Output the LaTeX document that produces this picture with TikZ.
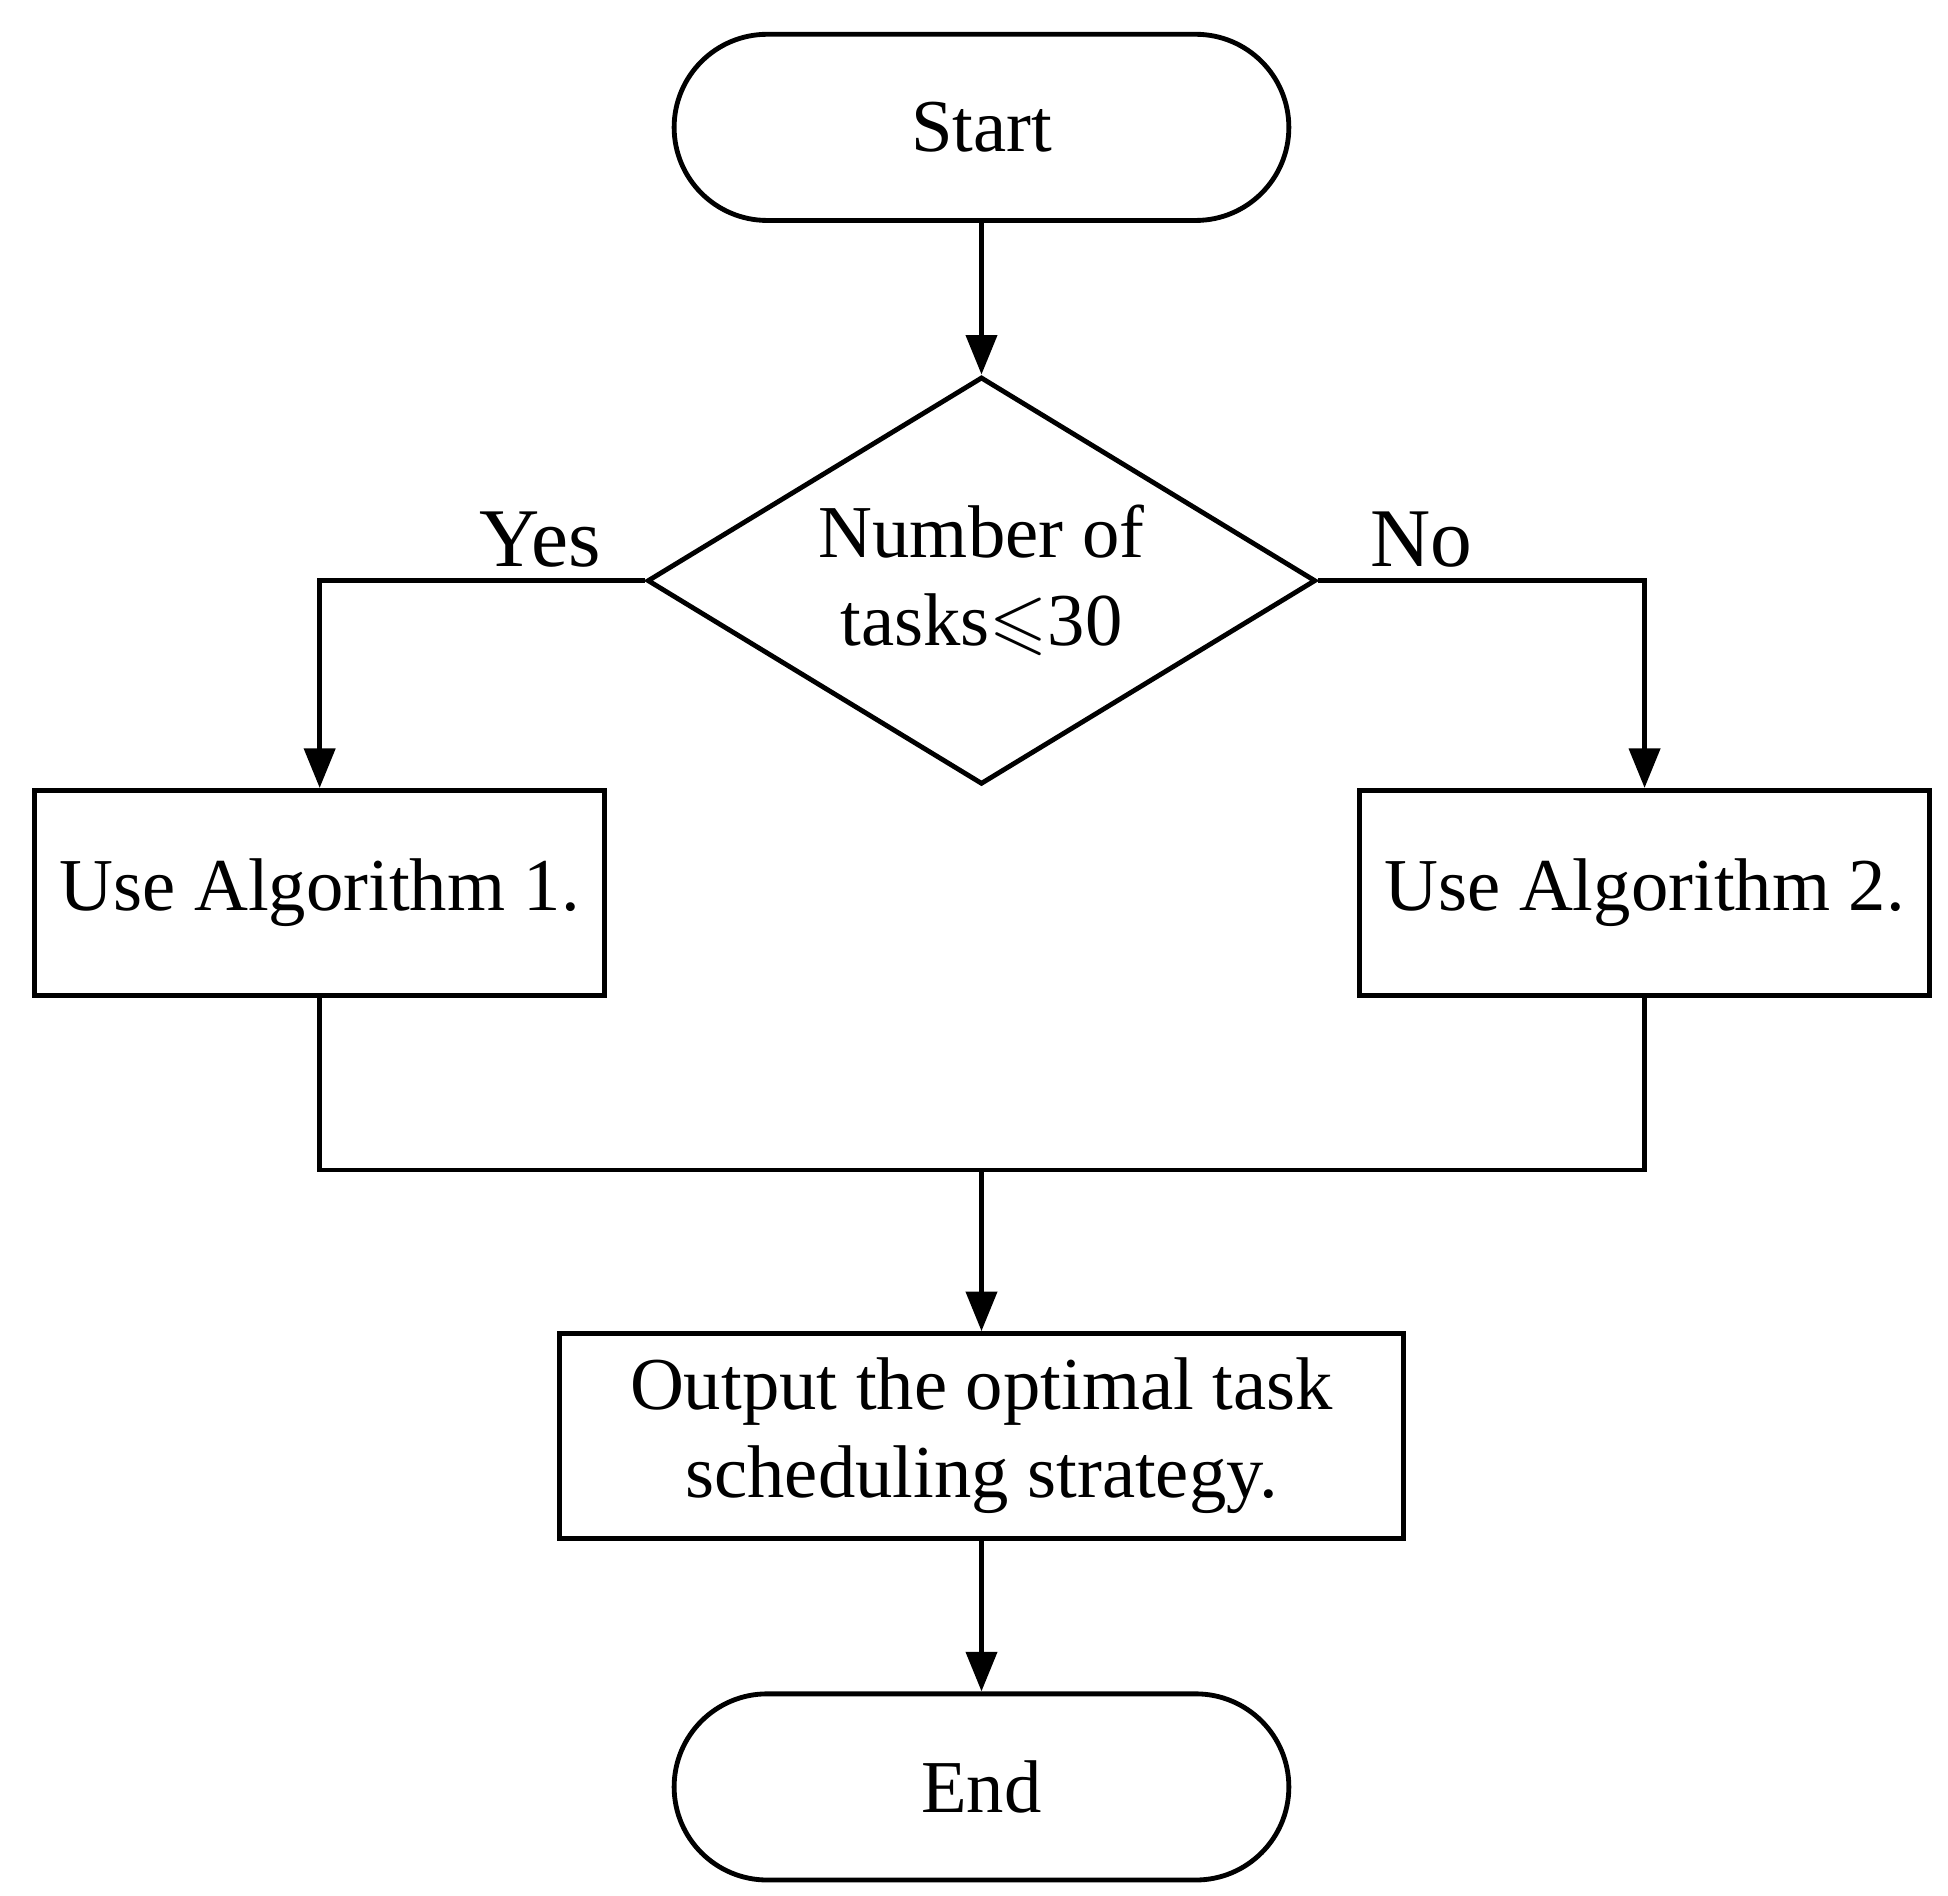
\documentclass[tikz,border=0pt]{standalone}
\usepackage{fontspec}
\setmainfont{Liberation Serif}
\usepackage{amssymb}
\usetikzlibrary{shapes.geometric,shapes.misc,arrows.meta}
\begin{document}
\begin{tikzpicture}[x=0.01cm,y=-0.01cm,
  every node/.style={font=\fontsize{17}{20}\selectfont},
  term/.style={draw,line width=1.1pt,rounded rectangle,minimum width=4.92cm,minimum height=1.49cm,inner sep=0pt},
  box/.style={draw,line width=1.1pt,rectangle,inner sep=0pt,align=center},
  dec/.style={draw,line width=1.1pt,diamond,aspect=1.64,minimum width=5.35cm,minimum height=3.26cm,inner sep=0pt,align=center},
  line/.style={line width=1.1pt},
  arr/.style={line width=1.1pt,-{Triangle[length=9pt,width=7pt]}},
  lab/.style={font=\fontsize{19}{22}\selectfont}]
\useasboundingbox (0,0) rectangle (1560,1518);
\node[term] (start) at (786,102) {Start};
\node[dec] (dec) at (786,465) {Number of\\tasks$\leqslant$30};
\node[box,minimum width=4.56cm,minimum height=1.64cm] (a1) at (256,715) {Use Algorithm 1.};
\node[box,minimum width=4.56cm,minimum height=1.64cm] (a2) at (1317,715) {Use Algorithm 2.};
\node[box,minimum width=6.75cm,minimum height=1.64cm] (out) at (786,1150) {Output the optimal task\\scheduling strategy.};
\node[term] (end) at (786,1431) {End};
\coordinate (m1) at (256,937);
\coordinate (m2) at (1317,937);
\coordinate (mc) at (786,937);
\draw[arr] (start) -- (dec.north);
\draw[arr] (dec.west) -| (a1.north);
\draw[arr] (dec.east) -| (a2.north);
\draw[line] (a1.south) -- (m1) -- (m2) -- (a2.south);
\draw[arr] (mc) -- (out.north);
\draw[arr] (out) -- (end);
\node[lab] (yes) at (433,432) {Yes};
\node[lab] (no) at (1138,432) {No};
\end{tikzpicture}
\end{document}
